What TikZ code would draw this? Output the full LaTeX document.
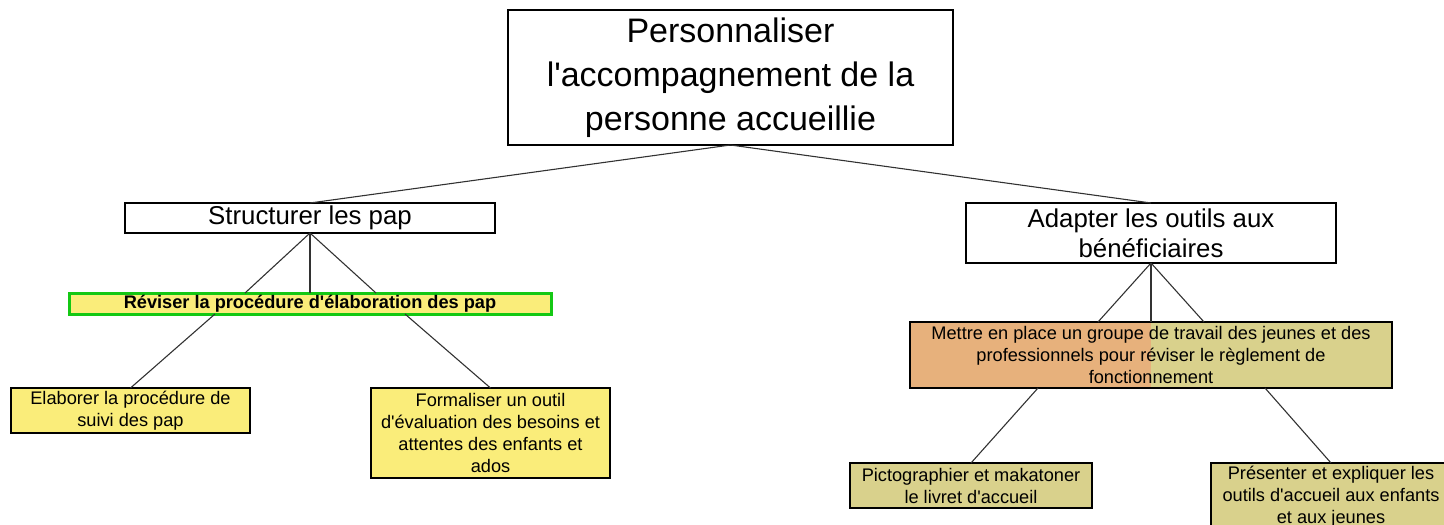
\documentclass[tikz,border=0pt]{standalone}
\usepackage{fontspec}
\setmainfont{Liberation Sans}
\usetikzlibrary{positioning}
\definecolor{boxyellow}{RGB}{250,237,122}
\definecolor{boxkhaki}{RGB}{217,209,140}
\definecolor{boxorange}{RGB}{231,177,124}
\definecolor{boxgreen}{RGB}{20,200,20}
\definecolor{linegray}{RGB}{50,50,50}
\newcommand{\apos}{\textquotesingle}
\tikzset{
  every node/.style={inner sep=0pt, outer sep=0pt},
  box/.style={draw=black, line width=1.3pt, rectangle, align=center},
  bigtext/.style={font=\fontsize{34}{44}\selectfont},
  midtext/.style={font=\fontsize{25.8}{30}\selectfont},
  smalltext/.style={font=\fontsize{18.2}{22}\selectfont},
  conn/.style={draw=linegray, line width=1.1pt},
}
\begin{document}
\begin{tikzpicture}[x=1pt,y=-1pt]
\useasboundingbox (0,0) rectangle (1444,525);

\node[box, bigtext, minimum width=445pt, minimum height=135pt] (top) at (730.5,77.5)
  {Personnaliser\\l\apos accompagnement de la\\personne accueillie};

\node[box, midtext, minimum width=370pt, minimum height=30pt] (struct) at (310,218)
  {\raisebox{-1.5pt}{Structurer les pap}};
\node[box, midtext, minimum width=370pt, minimum height=60pt] (adapt) at (1151,233)
  {Adapter les outils aux\\bénéficiaires};

\node[box, draw=boxgreen, line width=3pt, fill=boxyellow, font=\fontsize{18.2}{22}\selectfont\bfseries,
  minimum width=482pt, minimum height=21pt] (revis) at (310,303.5)
  {\raisebox{-1pt}{Réviser la procédure d\apos élaboration des pap}};

\node[box, smalltext, fill=boxyellow, minimum width=239pt, minimum height=45pt] (elab) at (130.5,410.5)
  {Elaborer la procédure de\\suivi des pap};
\node[box, smalltext, fill=boxyellow, minimum width=239pt, minimum height=90pt] (forma) at (490.5,433)
  {Formaliser un outil\\d\apos évaluation des besoins et\\attentes des enfants et\\ados};

\node[box, smalltext, minimum width=482pt, minimum height=66pt,
  path picture={
    \fill[boxorange] (path picture bounding box.south west) rectangle (path picture bounding box.north);
    \fill[boxkhaki] (path picture bounding box.south) rectangle (path picture bounding box.north east);
  }] (mettre) at (1151,355)
  {Mettre en place un groupe de travail des jeunes et des\\professionnels pour réviser le règlement de\\fonctionnement};

\node[box, smalltext, fill=boxkhaki, minimum width=242pt, minimum height=45pt] (picto) at (971,485.5)
  {Pictographier et makatoner\\le livret d\apos accueil};
\node[box, smalltext, fill=boxkhaki, minimum width=240pt, minimum height=68pt] (pres) at (1331,497)
  {Présenter et expliquer les\\outils d\apos accueil aux enfants\\et aux jeunes};

\draw[conn] (top.south) -- (struct.north);
\draw[conn] (top.south) -- (adapt.north);

\draw[conn] (struct.south) -- ([xshift=-65pt]revis.north);
\draw[conn] (struct.south) -- (revis.north);
\draw[conn] (struct.south) -- ([xshift=66pt]revis.north);

\draw[conn] ([xshift=-95pt]revis.south) -- (elab.north);
\draw[conn] ([xshift=95pt]revis.south) -- (forma.north);

\draw[conn] (adapt.south) -- ([xshift=-53pt]mettre.north);
\draw[conn] (adapt.south) -- (mettre.north);
\draw[conn] (adapt.south) -- ([xshift=53pt]mettre.north);

\draw[conn] ([xshift=-113pt]mettre.south) -- (picto.north);
\draw[conn] ([xshift=114pt]mettre.south) -- (pres.north);
\end{tikzpicture}
\end{document}
